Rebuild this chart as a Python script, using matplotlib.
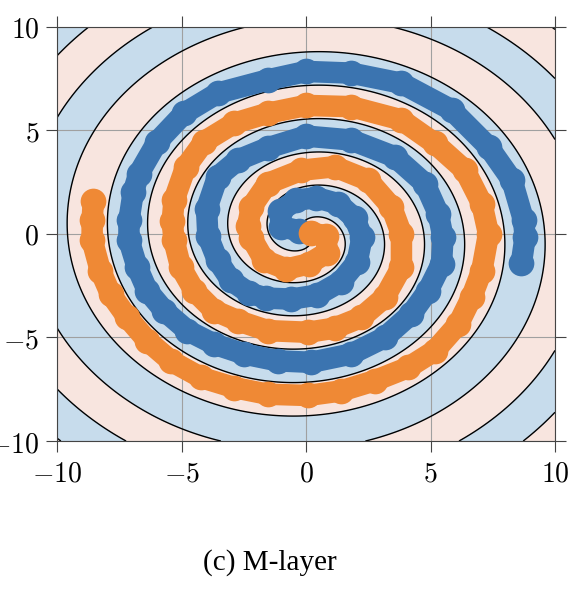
import numpy as np
import matplotlib
matplotlib.use('Agg')
import matplotlib.pyplot as plt

# Blue class (read along the arm, inner end -> outer end)
blue_x = [-0.3, -1.0, -1.05, -0.4, 0.4, 1.3, 1.95, 2.25, 2.05, 1.4, 0.45, -0.6, -1.6, -2.3,
          -3.02, -3.56, -3.95, -4.0, -3.56, -2.75, -1.55, 0.0, 1.81, 3.56, 4.77, 5.31, 5.5,
          5.44, 4.9, 4.23, 3.16, 1.81, 0.2, -1.14, -2.49, -3.7, -4.77, -5.71, -6.38, -6.79,
          -7.12, -7.12, -6.95, -6.72, -5.98, -4.9, -3.56, -1.55, 0.0, 1.81, 3.83, 5.85, 7.33,
          8.27, 8.74, 8.8, 8.65]
blue_y = [0.15, 0.35, 1.1, 1.62, 1.75, 1.45, 0.75, -0.15, -1.35, -2.3, -2.95, -3.15, -3.1, -2.85,
          -2.25, -1.28, -0.1, 1.2, 2.75, 3.56, 4.15, 4.72, 4.53, 3.72, 2.43, 0.98, -0.15,
          -1.44, -2.74, -3.86, -5.0, -5.8, -6.2, -6.13, -5.8, -5.32, -4.67, -3.7, -2.74, -1.61,
          -0.31, 0.65, 2.0, 2.91, 4.45, 5.82, 6.79, 7.43, 7.84, 7.76, 7.27, 5.98, 4.2,
          2.59, 0.65, -0.15, -1.4]

# Orange class (read along the arm, inner end -> outer end)
orange_x = [0.2, 0.8, 0.85, 0.1, -0.8, -1.68, -2.2, -2.35, -2.2, -1.55, -0.2, 1.14, 2.49, 3.43,
            3.83, 3.83, 3.16, 2.22, 1.14, 0.07, -1.55, -2.75, -3.7, -4.5, -5.04, -5.31, -5.38,
            -5.31, -4.84, -4.1, -2.89, -1.55, 0.0, 1.81, 3.83, 5.17, 6.38, 7.06, 7.33, 7.06,
            6.65, 6.12, 5.17, 4.1, 2.75, 1.41, 0.07, -1.55, -2.89, -4.23, -5.44, -6.38, -7.19,
            -7.86, -8.27, -8.6, -8.6, -8.55]
orange_y = [0.05, -0.1, -0.9, -1.45, -1.7, -1.28, -0.2, 0.4, 1.3, 2.43, 3.07, 3.24, 2.59, 1.3,
            0.0, -1.61, -3.06, -4.03, -4.55, -4.75, -4.67, -4.19, -3.7, -2.74, -1.61, -0.31, 0.6,
            1.62, 3.23, 4.45, 5.34, 5.82, 6.2, 6.14, 5.5, 4.37, 3.07, 1.46, 0.0, -1.77,
            -3.06, -4.35, -5.64, -6.45, -7.09, -7.58, -7.8, -7.74, -7.42, -6.93, -6.13, -5.16, -4.03,
            -2.9, -1.77, -0.31, 0.65, 1.6]

tick_values = [-10, -5, 0, 5, 10]
tick_labels = [r'$-10$', r'$-5$', r'$0$', r'$5$', r'$10$']
caption = '(c) M-layer'

# decision-boundary spiral (start radius, radial gap per turn)
boundary_r0 = 0.68
boundary_pitch = 3.24

BLUE = '#3b74b0'
ORANGE = '#ef8935'
BG_BLUE = '#c7dcec'
BG_SALMON = '#f8e5df'

plt.rcParams['mathtext.fontset'] = 'cm'

fig = plt.figure(figsize=(5.84, 5.92), dpi=100)
ax = fig.add_axes([0.0981, 0.255, 0.8522, 0.6999])

gx = np.linspace(-10, 10, 800)
gy = np.linspace(-10, 10, 800)
X, Y = np.meshgrid(gx, gy)
R = np.hypot(X, Y)
theta_cw = np.pi - np.arctan2(Y, X)
F = np.cos(2 * np.pi * (R - boundary_r0) / boundary_pitch - theta_cw)
ax.contourf(X, Y, F, levels=[-1.5, 0, 1.5], colors=[BG_SALMON, BG_BLUE], zorder=0)
ax.contour(X, Y, F, levels=[0], colors='black', linewidths=1.0, zorder=2)

for xs, ys, c in [(blue_x, blue_y, BLUE), (orange_x, orange_y, ORANGE)]:
    ax.plot(xs, ys, color=c, lw=15.5, solid_capstyle='round', solid_joinstyle='round', zorder=3)
    ax.plot(xs, ys, 'o', ms=18.5, color=c, mew=0, zorder=3)

ax.set_xlim(-10, 10)
ax.set_ylim(-10, 10)
ax.set_xticks(tick_values)
ax.set_yticks(tick_values)
ax.set_xticklabels(tick_labels)
ax.set_yticklabels(tick_labels)
ax.grid(True, color='#a0a0a0', lw=0.8)
ax.tick_params(direction='out', length=8, width=0.8, color='#444444', top=True, right=True,
               labelsize=20, pad=5)
for s in ax.spines.values():
    s.set_color('#444444')
    s.set_linewidth(0.8)

fig.text(0.462, 0.049, caption, ha='center', va='center', fontsize=21, family='Liberation Serif')

fig.savefig('out.png', dpi=100)
